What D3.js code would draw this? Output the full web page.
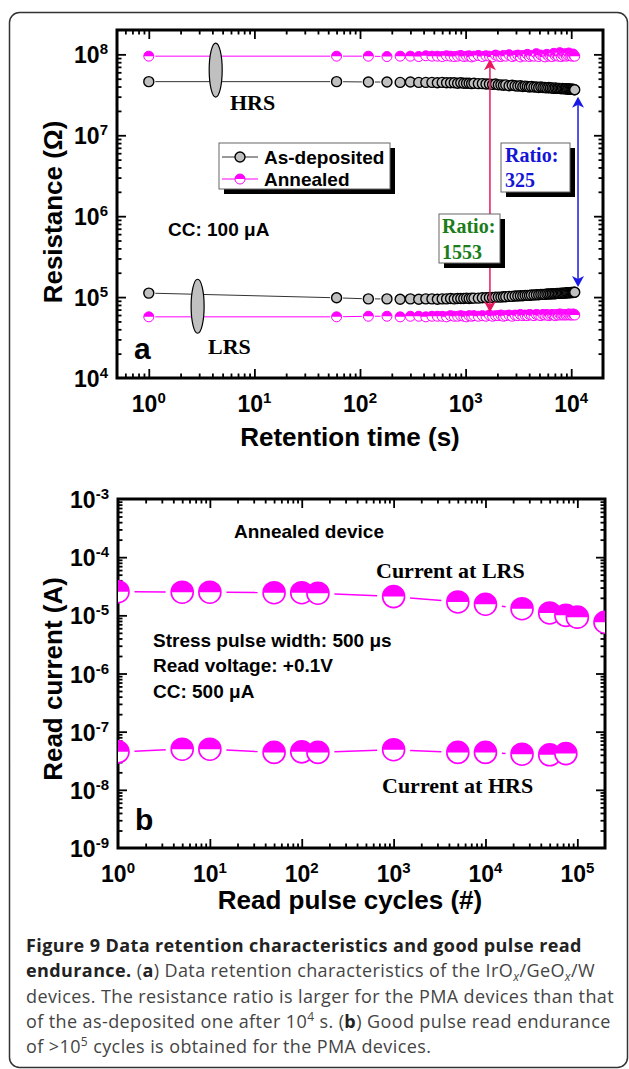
<!DOCTYPE html>
<html>
<head>
<meta charset="utf-8">
<script src="https://cdn.jsdelivr.net/npm/d3@7"></script>
<style>
  body { margin: 0; background: #fff; }
  svg { display: block; }
</style>
</head>
<body>
<div id="chart"></div>
<script>
// ---- panel a: retention (time in s, resistance in ohm) ----
const retTime = [
  1, 60, 120, 180, 240, 300, 360, 420, 480, 540,
  600, 660, 720, 780, 840, 900, 960, 1020, 1080, 1140,
  1200, 1320, 1440, 1560, 1680, 1800, 1920, 2040, 2160, 2280,
  2400, 2580, 2760, 2940, 3120, 3300, 3480, 3660, 3840, 4020,
  4200, 4440, 4680, 4920, 5160, 5400, 5640, 5880, 6120, 6360,
  6600, 6840, 7080, 7320, 7560, 7800, 8040, 8280, 8520, 8760,
  9000, 9240, 9480, 9720, 9960, 10200, 10440, 10680, 10800
];
// HRS values in units of 1e7 ohm
const hrsAsDep = [
  4.6, 4.6, 4.55, 4.55, 4.5, 4.55, 4.5, 4.5, 4.5, 4.45,
  4.5, 4.45, 4.45, 4.45, 4.4, 4.45, 4.4, 4.4, 4.4, 4.35,
  4.4, 4.35, 4.35, 4.3, 4.3, 4.25, 4.3, 4.2, 4.2, 4.15,
  4.2, 4.1, 4.15, 4.1, 4.05, 4.1, 4.0, 4.05, 4.0, 3.95,
  4.0, 3.95, 3.95, 3.9, 3.95, 3.9, 3.9, 3.85, 3.9, 3.85,
  3.85, 3.8, 3.85, 3.8, 3.8, 3.8, 3.75, 3.8, 3.75, 3.75,
  3.75, 3.7, 3.75, 3.7, 3.7, 3.7, 3.7, 3.65, 3.65
];
const hrsAnneal = [
  9.5, 9.5, 9.5, 9.4, 9.5, 9.5, 9.4, 9.6, 9.5, 9.5,
  9.4, 9.6, 9.5, 9.4, 9.5, 9.7, 9.4, 9.5, 9.6, 9.3,
  9.5, 9.7, 9.4, 9.6, 9.5, 9.3, 9.8, 9.5, 9.4, 9.7,
  9.5, 9.9, 9.4, 9.6, 9.8, 9.3, 9.7, 9.5, 10.0, 9.4,
  9.7, 9.5, 10.2, 9.4, 9.8, 9.6, 9.3, 10.0, 9.5, 9.7,
  9.4, 10.3, 9.6, 9.8, 9.5, 10.5, 9.4, 9.9, 9.6, 10.2,
  9.5, 9.8, 10.4, 9.6, 9.9, 9.5, 10.1, 9.6, 9.5
];
// LRS values in units of 1e4 ohm
const lrsAsDep = [
  11.2, 9.8, 9.5, 9.5, 9.4, 9.5, 9.4, 9.5, 9.5, 9.4,
  9.5, 9.5, 9.6, 9.5, 9.6, 9.6, 9.6, 9.7, 9.6, 9.7,
  9.7, 9.7, 9.8, 9.8, 9.9, 9.9, 10.0, 10.0, 10.0, 10.1,
  10.1, 10.2, 10.2, 10.3, 10.3, 10.4, 10.4, 10.5, 10.5, 10.5,
  10.6, 10.6, 10.7, 10.7, 10.8, 10.8, 10.8, 10.9, 10.9, 10.9,
  11.0, 11.0, 11.0, 11.1, 11.1, 11.1, 11.2, 11.2, 11.2, 11.2,
  11.3, 11.3, 11.3, 11.3, 11.4, 11.4, 11.4, 11.5, 11.5
];
const lrsAnneal = [
  5.7, 5.7, 5.8, 5.8, 5.7, 5.8, 5.8, 5.7, 5.8, 5.8,
  5.8, 5.7, 5.9, 5.8, 5.8, 5.9, 5.8, 5.7, 5.9, 5.8,
  5.9, 5.8, 5.9, 5.8, 6.0, 5.8, 5.9, 5.9, 6.0, 5.8,
  5.9, 6.0, 5.8, 6.0, 5.9, 6.1, 5.9, 6.0, 5.9, 6.1,
  6.0, 5.9, 6.1, 6.0, 5.9, 6.1, 6.0, 6.1, 5.9, 6.0,
  6.1, 6.0, 5.9, 6.1, 6.0, 6.2, 6.0, 6.1, 6.0, 6.1,
  6.0, 6.1, 6.2, 6.0, 6.1, 6.0, 6.2, 6.1, 6.0
];

// ---- panel b: read endurance (cycles, current in A) ----
const cyclesLrs = [1, 5, 10, 50, 100, 150, 1000, 5000, 1e4, 2.5e4, 5e4, 7.5e4, 1e5, 2e5];
const currentLrs = [2.55e-5, 2.5e-5, 2.5e-5, 2.45e-5, 2.45e-5, 2.4e-5, 2.1e-5, 1.7e-5, 1.55e-5, 1.3e-5, 1.1e-5, 1.0e-5, 9.3e-6, 7.6e-6];
const cyclesHrs = [1, 5, 10, 50, 100, 150, 1000, 5000, 1e4, 2.5e4, 5e4, 7.5e4];
const currentHrs = [4.5e-8, 5.0e-8, 5.0e-8, 4.4e-8, 4.5e-8, 4.4e-8, 4.9e-8, 4.4e-8, 4.4e-8, 4.1e-8, 4.0e-8, 4.2e-8];

// tick label exponents
const aXTickExp = [0, 1, 2, 3, 4];
const aYTickExp = [4, 5, 6, 7, 8];
const bXTickExp = [0, 1, 2, 3, 4, 5];
const bYTickExp = [-9, -8, -7, -6, -5, -4, -3];

const MAGENTA = "#ff00ff";
const SANS = "'Liberation Sans', Arial, sans-serif";
const SERIF = "'Liberation Serif', 'Times New Roman', serif";

const svg = d3.select("#chart").append("svg")
  .attr("width", 629)
  .attr("height", 1069)
  .attr("font-family", SANS);

svg.append("rect")
  .attr("x", 9.5).attr("y", 12.5)
  .attr("width", 618).attr("height", 1055)
  .attr("rx", 10)
  .attr("fill", "white")
  .attr("stroke", "#333")
  .attr("stroke-width", 1.5);

// scales
const xA = d3.scaleLog().domain([0.5, 2e4]).range([117, 603]);
const yA = d3.scaleLog().domain([1e4, 2e8]).range([378, 30]);
const xB = d3.scaleLog().domain([1, 2e5]).range([118, 605]);
const yB = d3.scaleLog().domain([1e-9, 1e-3]).range([848, 499]);

const isDecade = v => Math.abs(Math.log10(v) - Math.round(Math.log10(v))) < 1e-6;

function drawAxes(x, y, xExp, yExp) {
  const [l, r] = x.range(), [b, t] = y.range();
  const g = svg.append("g");
  const inside = (s, v) => { const p = s(v), rg = s.range(); return p > Math.min(...rg) + 1 && p < Math.max(...rg) - 1; };
  const xMinor = x.ticks().filter(v => !isDecade(v) && inside(x, v));
  const xMajor = x.ticks().filter(v => isDecade(v) && inside(x, v));
  const yMinor = y.ticks().filter(v => !isDecade(v) && inside(y, v));
  const yMajor = y.ticks().filter(v => isDecade(v) && inside(y, v));

  const sides = [
    [d3.axisBottom(x), `translate(0,${b})`, xMinor, xMajor],
    [d3.axisTop(x), `translate(0,${t})`, xMinor, xMajor],
    [d3.axisLeft(y), `translate(${l},0)`, yMinor, yMajor],
    [d3.axisRight(y), `translate(${r},0)`, yMinor, yMajor]
  ];
  sides.forEach(([ax, tr, minor, major]) => {
    [[minor, -4.5], [major, -9]].forEach(([vals, size]) => {
      g.append("g")
        .attr("transform", tr)
        .call(ax.tickValues(vals).tickSize(size).tickFormat(""))
        .call(s => s.select(".domain").remove())
        .call(s => s.selectAll(".tick line").attr("stroke", "#000").attr("stroke-width", 1.8));
    });
  });

  g.append("rect")
    .attr("x", l).attr("y", t)
    .attr("width", r - l).attr("height", b - t)
    .attr("fill", "none")
    .attr("stroke", "#000")
    .attr("stroke-width", 3);

  // x tick labels
  xExp.forEach(e => {
    const tx = g.append("text")
      .attr("x", x(Math.pow(10, e)))
      .attr("y", b + 34)
      .attr("text-anchor", "middle")
      .attr("font-size", 23)
      .attr("font-weight", "bold");
    tx.append("tspan").text("10");
    tx.append("tspan").attr("dy", -9).attr("font-size", 15).text(e);
  });
  // y tick labels
  yExp.forEach(e => {
    const ty = g.append("text")
      .attr("x", l - 9)
      .attr("y", y(Math.pow(10, e)) + 9)
      .attr("text-anchor", "end")
      .attr("font-size", 23)
      .attr("font-weight", "bold");
    ty.append("tspan").text("10");
    ty.append("tspan").attr("dy", -9).attr("font-size", 15).text(e);
  });
}

// line segments between consecutive points, leaving a gap round each marker
function gappedLine(g, pts, gap, color, width) {
  for (let i = 1; i < pts.length; i++) {
    const [x0, y0] = pts[i - 1], [x1, y1] = pts[i];
    const dx = x1 - x0, dy = y1 - y0, len = Math.hypot(dx, dy);
    if (len <= 2 * gap + 1) continue;
    const ux = dx / len, uy = dy / len;
    g.append("line")
      .attr("x1", x0 + ux * gap).attr("y1", y0 + uy * gap)
      .attr("x2", x1 - ux * gap).attr("y2", y1 - uy * gap)
      .attr("stroke", color)
      .attr("stroke-width", width);
  }
}

function halfMarker(g, cx, cy, r, color, sw) {
  const m = g.append("g").attr("transform", `translate(${cx},${cy})`);
  m.append("circle").attr("r", r).attr("fill", "white").attr("stroke", color).attr("stroke-width", sw);
  m.append("path").attr("d", `M${-r},0A${r},${r} 0 0 1 ${r},0Z`).attr("fill", color);
}

function greyMarker(g, cx, cy, r) {
  g.append("circle")
    .attr("cx", cx).attr("cy", cy).attr("r", r)
    .attr("fill", "#c0c0c0")
    .attr("stroke", "#000")
    .attr("stroke-width", 1.4);
}

// ================= panel a =================
drawAxes(xA, yA, aXTickExp, aYTickExp);
const gA = svg.append("g");

const ptsHrsDep = retTime.map((t, i) => [xA(t), yA(hrsAsDep[i] * 1e7)]);
const ptsHrsAnn = retTime.map((t, i) => [xA(t), yA(hrsAnneal[i] * 1e7)]);
const ptsLrsDep = retTime.map((t, i) => [xA(t), yA(lrsAsDep[i] * 1e4)]);
const ptsLrsAnn = retTime.map((t, i) => [xA(t), yA(lrsAnneal[i] * 1e4)]);

gappedLine(gA, ptsHrsDep, 6.5, "#333", 1);
gappedLine(gA, ptsLrsDep, 6.5, "#333", 1);
gappedLine(gA, ptsHrsAnn, 6.5, MAGENTA, 1);
gappedLine(gA, ptsLrsAnn, 6.5, MAGENTA, 1);

ptsHrsDep.forEach(p => greyMarker(gA, p[0], p[1], 5));
ptsLrsDep.forEach(p => greyMarker(gA, p[0], p[1], 5));
ptsHrsAnn.forEach(p => halfMarker(gA, p[0], p[1], 5, MAGENTA, 1));
ptsLrsAnn.forEach(p => halfMarker(gA, p[0], p[1], 5, MAGENTA, 1));

// state ellipses
[[4.3, 6.4e7], [2.9, 7.7e4]].forEach(([t, v]) => {
  gA.append("ellipse")
    .attr("cx", xA(t)).attr("cy", yA(v))
    .attr("rx", 6.5).attr("ry", 27)
    .attr("fill", "#c0c0c0")
    .attr("stroke", "#000")
    .attr("stroke-width", 1.2);
});

// ratio arrows
function vArrow(g, x, yTop, yBot, color) {
  g.append("line")
    .attr("x1", x).attr("x2", x)
    .attr("y1", yTop + 8).attr("y2", yBot - 8)
    .attr("stroke", color).attr("stroke-width", 1.5);
  g.append("path").attr("d", `M${x},${yTop}l-6,11l6,-3l6,3Z`).attr("fill", color);
  g.append("path").attr("d", `M${x},${yBot}l-6,-11l6,3l6,-3Z`).attr("fill", color);
}
vArrow(gA, xA(1700), yA(8.7e7), yA(6.5e4), "#e8185e");
vArrow(gA, xA(11600), yA(3.0e7), yA(1.33e5), "#1a1ae6");

// boxes with shadow
function shadowBox(g, x, y, w, h) {
  g.append("rect").attr("x", x + 5).attr("y", y + 5).attr("width", w).attr("height", h).attr("fill", "#000");
  g.append("rect").attr("x", x).attr("y", y).attr("width", w).attr("height", h)
    .attr("fill", "white").attr("stroke", "#666").attr("stroke-width", 1);
}

// legend
shadowBox(gA, 219, 143, 171, 46);
[["As-deposited", 157, "dep"], ["Annealed", 179, "ann"]].forEach(([label, ly, kind]) => {
  gA.append("line").attr("x1", 222).attr("x2", 258).attr("y1", ly).attr("y2", ly)
    .attr("stroke", kind === "dep" ? "#333" : MAGENTA).attr("stroke-width", 1);
  if (kind === "dep") greyMarker(gA, 240, ly, 5);
  else halfMarker(gA, 240, ly, 5, MAGENTA, 1);
  gA.append("text").attr("x", 264).attr("y", ly + 7)
    .attr("font-size", 19).attr("font-weight", "bold").text(label);
});

// ratio labels
shadowBox(gA, 501, 143, 69, 49);
gA.append("text").attr("x", 505).attr("y", 162).attr("font-family", SERIF).attr("font-size", 20)
  .attr("font-weight", "bold").attr("fill", "#1515d6").text("Ratio:");
gA.append("text").attr("x", 505).attr("y", 187).attr("font-family", SERIF).attr("font-size", 20)
  .attr("font-weight", "bold").attr("fill", "#1515d6").text("325");

shadowBox(gA, 439, 214, 61, 49);
gA.append("text").attr("x", 442).attr("y", 233).attr("font-family", SERIF).attr("font-size", 20)
  .attr("font-weight", "bold").attr("fill", "#1a7d1a").text("Ratio:");
gA.append("text").attr("x", 442).attr("y", 259).attr("font-family", SERIF).attr("font-size", 20)
  .attr("font-weight", "bold").attr("fill", "#1a7d1a").text("1553");

gA.append("text").attr("x", 230).attr("y", 110).attr("font-family", SERIF).attr("font-size", 22)
  .attr("font-weight", "bold").text("HRS");
gA.append("text").attr("x", 208).attr("y", 354).attr("font-family", SERIF).attr("font-size", 22)
  .attr("font-weight", "bold").text("LRS");
gA.append("text").attr("x", 168).attr("y", 236).attr("font-size", 19).attr("font-weight", "bold")
  .text("CC: 100 \u03bcA");
gA.append("text").attr("x", 134).attr("y", 359).attr("font-size", 30).attr("font-weight", "bold").text("a");

svg.append("text").attr("x", 350).attr("y", 446).attr("text-anchor", "middle")
  .attr("font-size", 26).attr("font-weight", "bold").text("Retention time (s)");
svg.append("text").attr("transform", "translate(62,212) rotate(-90)").attr("text-anchor", "middle")
  .attr("font-size", 26).attr("font-weight", "bold").text("Resistance (\u03a9)");

// ================= panel b =================
drawAxes(xB, yB, bXTickExp, bYTickExp);

svg.append("clipPath").attr("id", "clipB")
  .append("rect").attr("x", 118).attr("y", 499).attr("width", 487).attr("height", 349);
const gB = svg.append("g").attr("clip-path", "url(#clipB)");

const ptsLrsB = cyclesLrs.map((c, i) => [xB(c), yB(currentLrs[i])]);
const ptsHrsB = cyclesHrs.map((c, i) => [xB(c), yB(currentHrs[i])]);
gappedLine(gB, ptsLrsB, 16.5, MAGENTA, 1.5);
gappedLine(gB, ptsHrsB, 16.5, MAGENTA, 1.5);
ptsLrsB.forEach(p => halfMarker(gB, p[0], p[1], 11, MAGENTA, 1.6));
ptsHrsB.forEach(p => halfMarker(gB, p[0], p[1], 11, MAGENTA, 1.6));

const gBt = svg.append("g");
gBt.append("text").attr("x", 234).attr("y", 538).attr("font-size", 19).attr("font-weight", "bold")
  .text("Annealed device");
gBt.append("text").attr("x", 376).attr("y", 578).attr("font-family", SERIF).attr("font-size", 22)
  .attr("font-weight", "bold").text("Current at LRS");
gBt.append("text").attr("x", 382).attr("y", 793).attr("font-family", SERIF).attr("font-size", 22)
  .attr("font-weight", "bold").text("Current at HRS");
[["Stress pulse width: 500 \u03bcs", 647], ["Read voltage: +0.1V", 672], ["CC: 500 \u03bcA", 698]]
  .forEach(([s, ty]) => {
    gBt.append("text").attr("x", 153).attr("y", ty).attr("font-size", 19).attr("font-weight", "bold").text(s);
  });
gBt.append("text").attr("x", 135).attr("y", 830).attr("font-size", 30).attr("font-weight", "bold").text("b");

svg.append("text").attr("x", 350).attr("y", 909).attr("text-anchor", "middle")
  .attr("font-size", 26).attr("font-weight", "bold").text("Read pulse cycles (#)");
svg.append("text").attr("transform", "translate(62,679) rotate(-90)").attr("text-anchor", "middle")
  .attr("font-size", 26).attr("font-weight", "bold").text("Read current (A)");

// ================= caption =================
const cap = svg.append("g")
  .attr("font-family", "'Open Sans', sans-serif")
  .attr("font-size", 18)
  .attr("letter-spacing", 0.4)
  .attr("fill", "#444");
const capLines = [
  [["Figure 9 Data retention characteristics and good pulse read", "b"]],
  [["endurance.", "b"], [" (", ""], ["a", "b"], [") Data retention characteristics of the IrO", ""], ["x", "sub"],
   ["/GeO", ""], ["x", "sub"], ["/W", ""]],
  [["devices. The resistance ratio is larger for the PMA devices than that", ""]],
  [["of the as-deposited one after 10", ""], ["4", "sup"], [" s. (", ""], ["b", "b"], [") Good pulse read endurance", ""]],
  [["of >10", ""], ["5", "sup"], [" cycles is obtained for the PMA devices.", ""]]
];
capLines.forEach((parts, i) => {
  const tl = cap.append("text").attr("x", 26).attr("y", 952 + i * 25.3);
  parts.forEach(([s, st]) => {
    const sp = tl.append("tspan").text(s);
    if (st === "b") sp.attr("font-weight", "bold").attr("fill", "#222");
    if (st === "sub") sp.attr("font-style", "italic").attr("font-size", 12).attr("baseline-shift", "-4");
    if (st === "sup") sp.attr("font-size", 12).attr("baseline-shift", "7");
  });
});
</script>
</body>
</html>
